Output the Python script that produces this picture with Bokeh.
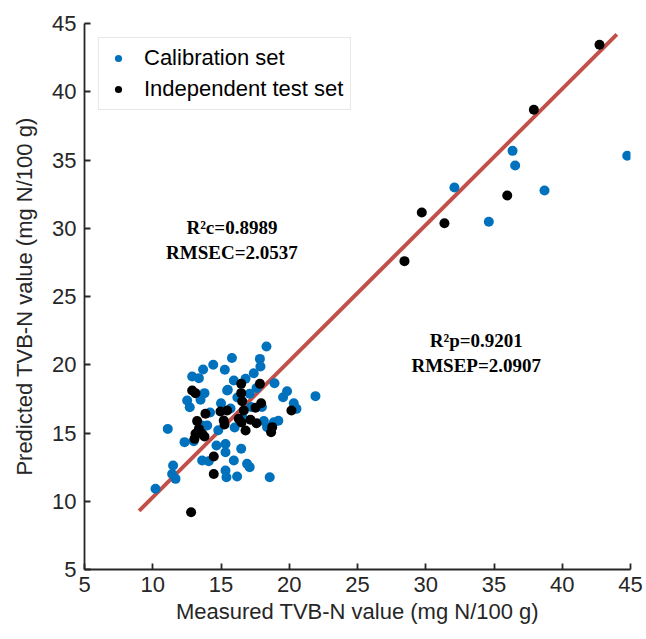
from bokeh.plotting import figure
from bokeh.models import ColumnDataSource, Range1d, Legend, LegendItem, FixedTicker
from bokeh.core.properties import value
from bokeh.embed import file_html
from bokeh.resources import INLINE

# Calibration set (measured, predicted)
cal_x = [32.1, 36.36, 36.55, 44.76, 38.7, 34.62,
         11.1, 12.89, 13.38, 13.69, 14.43, 15.28, 15.8, 13.79, 13.5, 12.52, 12.71,
         15.45, 15.0, 15.7, 13.6, 18.33, 17.85, 17.89, 17.4, 16.8, 15.94, 18.92,
         15.5, 17.1, 19.84, 19.55, 21.92, 20.33, 20.53, 18.14, 18.87, 13.99, 12.33,
         13.0, 14.67, 15.33, 13.62, 14.1, 11.49, 11.42, 11.67, 10.2, 18.38, 15.33,
         16.48, 15.94, 16.91, 17.1, 15.33, 15.4, 16.18, 18.57, 14.2, 16.2, 17.2,
         16.0, 14.8, 18.0, 17.6, 16.6, 19.2]
cal_y = [32.99, 35.67, 34.6, 35.31, 32.77, 30.47,
         15.3, 19.14, 19.02, 19.65, 20.0, 19.63, 20.5, 17.92, 17.43, 17.38, 16.89,
         18.11, 17.18, 16.8, 15.55, 21.34, 20.43, 19.87, 19.38, 18.97, 18.85, 18.65,
         18.16, 17.87, 18.06, 17.62, 17.7, 17.18, 16.77, 15.87, 15.79, 15.55, 14.33,
         14.4, 14.08, 13.59, 12.99, 12.93, 12.62, 12.0, 11.64, 10.91, 15.43, 14.2,
         13.84, 12.99, 12.74, 12.5, 12.25, 11.76, 11.81, 11.76, 16.5, 17.6, 16.9,
         15.4, 15.2, 16.9, 18.3, 16.1, 15.9]

# Independent test set (measured, predicted)
test_x = [42.73, 37.92, 35.97, 29.71, 31.37, 28.44,
          12.89, 13.13, 13.86, 14.96, 15.45, 13.25, 13.38, 16.48, 17.85, 16.48,
          17.94, 17.53, 16.55, 16.67, 20.16, 15.2, 16.3, 17.16, 17.6, 18.75,
          13.13, 13.62, 13.06, 13.79, 15.26, 14.47, 14.47, 12.81, 16.8, 18.67, 16.5]
test_y = [43.44, 38.68, 32.4, 31.15, 30.37, 27.59,
          18.11, 17.92, 16.41, 16.57, 16.65, 15.87, 15.3, 18.6, 18.6, 17.92,
          17.18, 16.85, 17.33, 16.65, 16.65, 15.92, 16.04, 15.97, 15.72, 15.43,
          14.94, 14.94, 14.57, 14.74, 15.62, 13.28, 12.0, 9.2, 15.18, 15.06, 15.77]

# Fit line endpoints
line_x = [9.0, 44.0]
line_y = [9.3, 44.2]

ticks = [5, 10, 15, 20, 25, 30, 35, 40, 45]
labels = ["Calibration set", "Independent test set"]
cal_stats = ["R\u00b2c=0.8989", "RMSEC=2.0537"]
pred_stats = ["R\u00b2p=0.9201", "RMSEP=2.0907"]

p = figure(width=646, height=639, output_backend="svg", toolbar_location=None,
           x_range=Range1d(5, 45), y_range=Range1d(5, 45),
           min_border_left=84, min_border_right=16, min_border_top=23, min_border_bottom=70)
p.outline_line_color = None
p.xgrid.visible = False
p.ygrid.visible = False
p.background_fill_color = "white"

for ax in (p.xaxis[0], p.yaxis[0]):
    ax.ticker = FixedTicker(ticks=ticks)
    ax.major_tick_in = 6
    ax.major_tick_out = 0
    ax.minor_tick_line_color = None
    ax.axis_line_color = "#262626"
    ax.axis_line_width = 1.8
    ax.major_tick_line_color = "#262626"
    ax.major_tick_line_width = 1.8
    ax.major_label_text_font = "Liberation Sans"
    ax.major_label_text_font_size = "22px"
    ax.major_label_text_color = "#262626"
    ax.axis_label_text_font = "Liberation Sans"
    ax.axis_label_text_font_size = "22px"
    ax.axis_label_text_font_style = "normal"
    ax.axis_label_text_color = "#262626"

p.xaxis.axis_label = "Measured TVB-N value (mg N/100 g)"
p.yaxis.axis_label = "Predicted TVB-N value (mg N/100 g)"
p.xaxis.major_label_standoff = 7
p.xaxis.axis_label_standoff = 4
p.yaxis.major_label_standoff = 8
p.yaxis.axis_label_standoff = 12

p.line(line_x, line_y, line_color="#c1504a", line_width=4)

cal_src = ColumnDataSource(dict(x=cal_x, y=cal_y))
test_src = ColumnDataSource(dict(x=test_x, y=test_y))
r_cal = p.scatter("x", "y", source=cal_src, size=10, fill_color="#0072BD", line_color=None)
r_test = p.scatter("x", "y", source=test_src, size=10, fill_color="black", line_color=None)

p.text(x=[15.8, 15.8], y=[30.05, 28.2], text=cal_stats,
       text_font=value("Liberation Serif"), text_font_style="bold", text_font_size="19px",
       text_align="center", text_baseline="middle", text_color="black")
p.text(x=[33.7, 33.7], y=[21.8, 19.95], text=pred_stats,
       text_font=value("Liberation Serif"), text_font_style="bold", text_font_size="19px",
       text_align="center", text_baseline="middle", text_color="black")

legend = Legend(items=[LegendItem(label=labels[0], renderers=[r_cal]),
                       LegendItem(label=labels[1], renderers=[r_test])],
                location="top_left", margin=14, padding=7, spacing=5,
                glyph_width=24, glyph_height=18, label_height=20, label_standoff=14,
                label_text_font="Liberation Sans", label_text_font_size="22px",
                label_text_color="black", border_line_color="#d0d0d0", border_line_width=1.5,
                background_fill_color="white", background_fill_alpha=1)
p.add_layout(legend, "center")

open("out.html", "w").write(file_html(p, INLINE))
